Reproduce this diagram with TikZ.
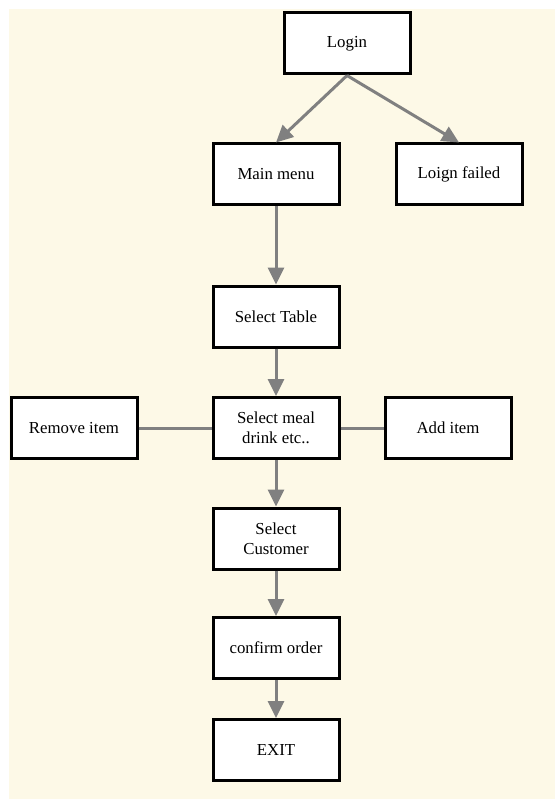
\documentclass[tikz,border=0pt]{standalone}
\usepackage{fontspec}
\setmainfont{Liberation Serif}
\usetikzlibrary{arrows.meta}
\definecolor{paper}{RGB}{253,249,231}
\definecolor{flowgray}{RGB}{128,128,128}
\begin{document}
\begin{tikzpicture}[x=1pt,y=-1pt,
  stepbox/.style={draw=black, line width=3pt, fill=white, minimum width=126pt,
    minimum height=61pt, inner sep=0pt, align=center,
    font=\fontsize{16.8}{19.5}\selectfont},
  flow/.style={draw=flowgray, line width=3pt,
    -{Triangle[length=17pt,width=16pt]}},
  link/.style={draw=flowgray, line width=3pt}]
  % page and cream panel
  \useasboundingbox (0,0) rectangle (554,799);
  \fill[white] (-2,-2) rectangle (560,805);
  \fill[paper] (9,9) rectangle (560,805);

  % nodes
  \node[stepbox] (login)    at (347,43.5)  {Login};
  \node[stepbox] (menu)     at (276,174.5) {Main menu};
  \node[stepbox] (failed)   at (459,174.5) {Loign failed};
  \node[stepbox] (table)    at (276,316.5) {Select Table};
  \node[stepbox] (meal)     at (276,428)   {Select meal\\drink etc..};
  \node[stepbox] (remove)   at (74,428)    {Remove item};
  \node[stepbox] (add)      at (448,428)   {Add item};
  \node[stepbox] (customer) at (276,538.5) {Select\\Customer};
  \node[stepbox] (confirm)  at (276,648)   {confirm order};
  \node[stepbox] (exit)     at (276,750)   {EXIT};

  % connectors
  \draw[flow] (login.south) -- (menu.north);
  \draw[flow] (login.south) -- (failed.north);
  \draw[flow] (menu) -- (table);
  \draw[flow] (table) -- (meal);
  \draw[flow] (meal) -- (customer);
  \draw[flow] (customer) -- (confirm);
  \draw[flow] (confirm) -- (exit);
  \draw[link] (remove) -- (meal);
  \draw[link] (meal) -- (add);
\end{tikzpicture}
\end{document}
